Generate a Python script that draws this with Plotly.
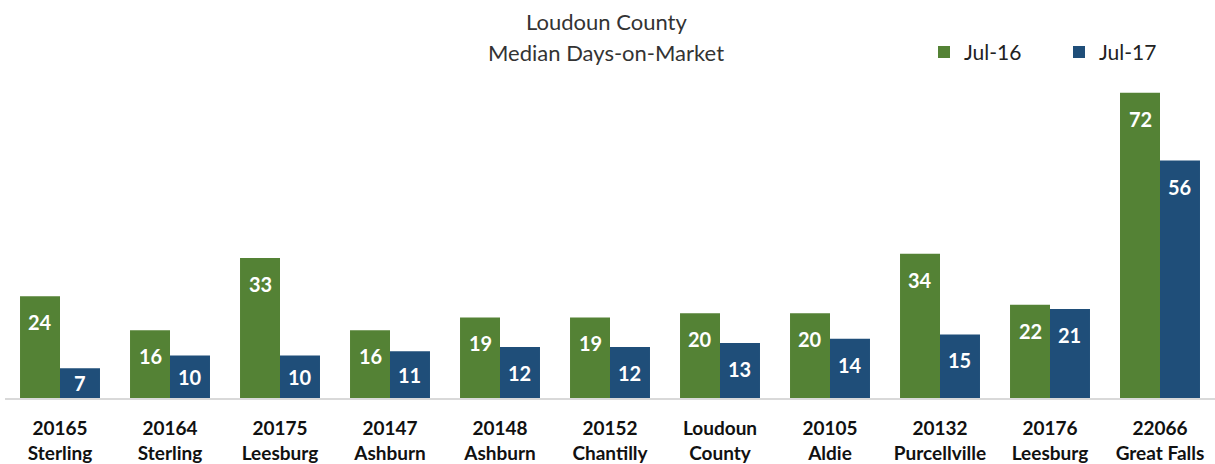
import plotly.graph_objects as go

categories = ["20165<br>Sterling", "20164<br>Sterling", "20175<br>Leesburg", "20147<br>Ashburn",
              "20148<br>Ashburn", "20152<br>Chantilly", "Loudoun<br>County", "20105<br>Aldie",
              "20132<br>Purcellville", "20176<br>Leesburg", "22066<br>Great Falls"]
jul16 = [24, 16, 33, 16, 19, 19, 20, 20, 34, 22, 72]
jul17 = [7, 10, 10, 11, 12, 12, 13, 14, 15, 21, 56]
title_lines = ["Loudoun County", "Median Days-on-Market"]

GREEN = "#548235"
BLUE = "#1f4e79"
FONT = "Lato"

W, H = 1215, 464
ML, MR, MT, MB = 5, 0, 80, 63
YMAX = 75
BARGAP = 0.273

fig = go.Figure()
fig.add_trace(go.Bar(name="Jul-16", x=categories, y=jul16, marker_color=GREEN, marker_line_width=0))
fig.add_trace(go.Bar(name="Jul-17", x=categories, y=jul17, marker_color=BLUE, marker_line_width=0))

plot_w = W - ML - MR
plot_h = H - MT - MB
cw = plot_w / len(categories)
off = (1 - BARGAP) * cw / 4
px_per_unit = plot_h / YMAX


def px_x(x):
    return (x - ML) / plot_w


def px_y(y):
    return (H - MB - y) / plot_h


annotations = []
for series, sign in ((jul16, -1), (jul17, 1)):
    for c, v in zip(categories, series):
        hpx = v * px_per_unit
        shift = min(26, hpx / 2)
        annotations.append(dict(x=c, y=v, xref="x", yref="y", text=f"<b>{v}</b>", showarrow=False,
                                xshift=sign * off, yshift=-shift, yanchor="middle",
                                font=dict(family=FONT, size=20, color="white")))

for line, ty in zip(title_lines, (21, 52)):
    annotations.append(dict(x=px_x(606), y=px_y(ty), xref="paper", yref="paper", text=line,
                            showarrow=False, xanchor="center", yanchor="middle",
                            font=dict(family=FONT, size=22, color="#333333")))

fig.update_layout(
    width=W, height=H,
    margin=dict(l=ML, r=MR, t=MT, b=MB),
    paper_bgcolor="white", plot_bgcolor="white",
    barmode="group", bargap=BARGAP, bargroupgap=0,
    font=dict(family=FONT, color="#222222"),
    showlegend=True,
    legend=dict(orientation="h", x=px_x(924), y=px_y(52),
                xanchor="left", yanchor="middle", font=dict(family=FONT, size=21, color="#222222"),
                bgcolor="rgba(0,0,0,0)", itemwidth=30, traceorder="normal",
                entrywidth=90, entrywidthmode="pixels"),
    annotations=annotations,
)
fig.update_xaxes(showline=True, linecolor="#d9d9d9", linewidth=2, showgrid=False, ticks="",
                 tickfont=dict(family=FONT, size=19, color="#111111", weight="bold"),
                 ticklabelstandoff=12, fixedrange=True)
fig.update_yaxes(range=[0, YMAX], visible=False, showgrid=False, fixedrange=True)

fig.write_html("out.html", config={"displayModeBar": False},
               post_script="document.body.style.margin='0';")
